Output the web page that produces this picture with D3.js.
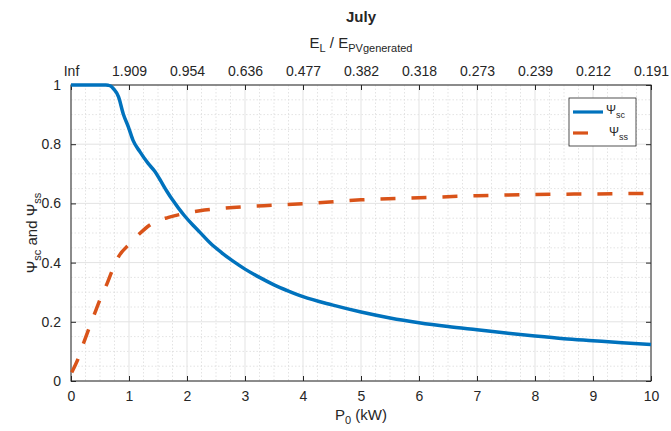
<!DOCTYPE html>
<html><head><meta charset="utf-8">
<script src="https://cdn.jsdelivr.net/npm/d3@7"></script>
<style>body{margin:0;background:#fff}svg{display:block}text{font-family:"Liberation Sans",Arial,sans-serif;fill:#262626}</style>
</head><body><svg id="c" width="671" height="431"></svg>
<script>
const title = "July";
const xTicks = [0,1,2,3,4,5,6,7,8,9,10];
const topTickLabels = ["Inf","1.909","0.954","0.636","0.477","0.382","0.318","0.273","0.239","0.212","0.191"];
const yTicks = [0,0.2,0.4,0.6,0.8,1];
const scX = [0,0.3,0.6,0.64,0.69,0.73,0.82,0.9,0.99,1.07,1.19,1.33,1.45,1.55,1.65,1.75,1.85,1.95,2.1,2.22,2.4,2.6,2.8,3.0,3.25,3.5,3.75,4.0,4.5,5,5.5,6,6.5,7,7.5,8,8.5,9,9.5,10];
const scY = [1,1,1,0.999,0.996,0.988,0.96,0.903,0.858,0.813,0.774,0.735,0.707,0.675,0.642,0.612,0.585,0.56,0.527,0.503,0.466,0.433,0.404,0.378,0.35,0.325,0.304,0.285,0.257,0.233,0.213,0.197,0.184,0.173,0.162,0.152,0.143,0.136,0.129,0.123];
const ssX = [0.012,0.126,0.21,0.41,0.5,0.62,0.7,0.82,1.02,1.19,1.39,1.68,1.91,2.22,2.6,3.0,3.5,4.1,5,6,7,8,9,10];
const ssY = [0.029,0.077,0.124,0.229,0.275,0.328,0.368,0.42,0.465,0.499,0.531,0.553,0.564,0.575,0.583,0.589,0.594,0.6,0.612,0.619,0.626,0.63,0.632,0.634];

const svg = d3.select("#c");
const L=71,R=651,T=85,B=381;
const x = d3.scaleLinear().domain([0,10]).range([L,R]);
const y = d3.scaleLinear().domain([0,1]).range([B,T]);
const g = svg.append("g");
// minor grid
const xMinor = d3.range(0,10.001,0.25).filter(v=>Math.abs(v-Math.round(v))>1e-6);
const yMinor = d3.range(0,1.0001,0.05).filter(v=>Math.abs(v*5-Math.round(v*5))>1e-6);
g.selectAll(".xm").data(xMinor).join("line").attr("x1",d=>x(d)).attr("x2",d=>x(d)).attr("y1",T).attr("y2",B)
 .attr("stroke","#dcdcdc").attr("stroke-width",0.8).attr("stroke-dasharray","1.5,2");
g.selectAll(".ym").data(yMinor).join("line").attr("y1",d=>y(d)).attr("y2",d=>y(d)).attr("x1",L).attr("x2",R)
 .attr("stroke","#dcdcdc").attr("stroke-width",0.8).attr("stroke-dasharray","1.5,2");
// major grid
g.selectAll(".xg").data(xTicks).join("line").attr("x1",d=>x(d)).attr("x2",d=>x(d)).attr("y1",T).attr("y2",B)
 .attr("stroke","#e3e3e3").attr("stroke-width",1);
g.selectAll(".yg").data(yTicks).join("line").attr("y1",d=>y(d)).attr("y2",d=>y(d)).attr("x1",L).attr("x2",R)
 .attr("stroke","#e3e3e3").attr("stroke-width",1);

// axes
const fmt = d=>d3.format("~g")(d);
const ax = (sel)=>{sel.select(".domain").remove(); sel.selectAll("line").attr("stroke","#262626"); sel.selectAll("text").attr("font-size",14).attr("fill","#262626");};
svg.append("g").attr("transform",`translate(0,${B})`).call(d3.axisBottom(x).tickValues(xTicks).tickFormat(fmt).tickSizeInner(-5).tickPadding(10)).call(ax);
svg.append("g").attr("transform",`translate(${L},0)`).call(d3.axisLeft(y).tickValues(yTicks).tickFormat(fmt).tickSizeInner(-5).tickPadding(10)).call(ax);
svg.append("g").attr("transform",`translate(0,${T})`).call(d3.axisTop(x).tickValues(xTicks).tickFormat((d,i)=>topTickLabels[i]).tickSizeInner(-5).tickPadding(9)).call(ax);
svg.append("g").attr("transform",`translate(${R},0)`).call(d3.axisRight(y).tickValues(yTicks).tickFormat("").tickSizeInner(-5)).call(ax);
svg.append("rect").attr("x",L).attr("y",T).attr("width",R-L).attr("height",B-T).attr("fill","none").attr("stroke","#262626").attr("stroke-width",1);

// lines
const line = d3.line().x(d=>x(d[0])).y(d=>y(d[1])).curve(d3.curveMonotoneX);
svg.append("path").datum(ssX.map((v,i)=>[v,ssY[i]])).attr("d",line).attr("fill","none")
 .attr("stroke","#D95319").attr("stroke-width",3.5).attr("stroke-dasharray","15,16");
svg.append("path").datum(scX.map((v,i)=>[v,scY[i]])).attr("d",line).attr("fill","none")
 .attr("stroke","#0072BD").attr("stroke-width",3.5);

// titles
svg.append("text").attr("x",(L+R)/2).attr("y",22).attr("text-anchor","middle").attr("font-size",15).attr("font-weight","bold").text(title);
const tl = svg.append("text").attr("x",(L+R)/2).attr("y",48).attr("text-anchor","middle").attr("font-size",15);
tl.append("tspan").text("E");
tl.append("tspan").attr("dy",4).attr("font-size",11).text("L");
tl.append("tspan").attr("dy",-4).text(" / E");
tl.append("tspan").attr("dy",4).attr("font-size",11).text("PVgenerated");
const xl = svg.append("text").attr("x",(L+R)/2).attr("y",420).attr("text-anchor","middle").attr("font-size",15);
xl.append("tspan").text("P");
xl.append("tspan").attr("dy",4).attr("font-size",11).text("0");
xl.append("tspan").attr("dy",-4).text(" (kW)");
const yl = svg.append("text").attr("transform",`translate(37,${(T+B)/2}) rotate(-90)`).attr("text-anchor","middle").attr("font-size",15);
yl.append("tspan").text("Ψ");
yl.append("tspan").attr("dy",4).attr("font-size",11).text("sc");
yl.append("tspan").attr("dy",-4).text(" and Ψ");
yl.append("tspan").attr("dy",4).attr("font-size",11).text("ss");

// legend
const lg = svg.append("g");
lg.append("rect").attr("x",569).attr("y",98).attr("width",67).attr("height",48).attr("fill","#fff").attr("stroke","#262626").attr("stroke-width",0.8);
lg.append("line").attr("x1",573).attr("x2",603).attr("y1",112).attr("y2",112).attr("stroke","#0072BD").attr("stroke-width",3.2);
lg.append("line").attr("x1",573).attr("x2",603).attr("y1",133).attr("y2",133).attr("stroke","#D95319").attr("stroke-width",3.2).attr("stroke-dasharray","15,30");
const t1 = lg.append("text").attr("x",606).attr("y",114).attr("font-size",12);
t1.append("tspan").text("Ψ"); t1.append("tspan").attr("dy",4).attr("font-size",9).text("sc");
const t2 = lg.append("text").attr("x",609).attr("y",136).attr("font-size",12);
t2.append("tspan").text("Ψ"); t2.append("tspan").attr("dy",4).attr("font-size",9).text("ss");
</script></body></html>
